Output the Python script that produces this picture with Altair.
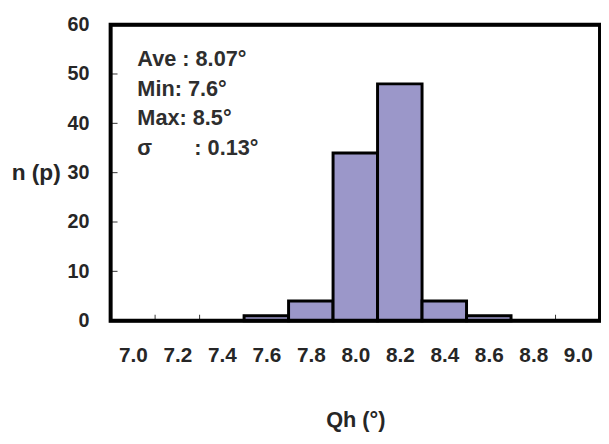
import altair as alt
import pandas as pd

# Data
bins = [7.0, 7.2, 7.4, 7.6, 7.8, 8.0, 8.2, 8.4, 8.6, 8.8, 9.0]
counts = [0, 0, 0, 1, 4, 34, 48, 4, 1, 0, 0]
y_ticks = [0, 10, 20, 30, 40, 50, 60]
x_tick_marks = [7.1, 7.3, 7.5, 7.7, 7.9, 8.1, 8.3, 8.5, 8.7, 8.9]
notes = ["Ave : 8.07°", "Min: 7.6°", "Max: 8.5°", "σ\u00a0\u00a0\u00a0\u00a0\u00a0\u00a0\u00a0: 0.13°"]
note_y = [53, 47, 41, 35]
note_x = [7.02, 7.02, 7.02, 7.02]
x_domain = [6.9, 9.1]
y_domain = [0, 60]

half = 0.1
bars_df = pd.DataFrame({"bin": bins, "n": counts,
                        "lo": [b - half for b in bins], "hi": [b + half for b in bins]})
bars_df = bars_df[bars_df["n"] > 0]
xt_df = pd.DataFrame({"t": x_tick_marks})
yt_df = pd.DataFrame({"t": y_ticks[1:-1]})
notes_df = pd.DataFrame({"txt": notes, "x": note_x, "y": note_y})
frame_df = pd.DataFrame({"x0": [x_domain[0]], "x1": [x_domain[1]],
                         "y0": [y_domain[0]], "y1": [y_domain[1]]})

FONT = "Liberation Sans"
INK = "#262626"
FRAME = "black"
xscale = alt.Scale(domain=x_domain, nice=False, zero=False)
yscale = alt.Scale(domain=y_domain, nice=False)

bars = alt.Chart(bars_df).mark_bar(color="#9b97c9", stroke=FRAME, strokeWidth=3).encode(
    x=alt.X("lo:Q", scale=xscale, axis=alt.Axis(
        values=bins, format=".1f", title="Qh (°)", ticks=False, domain=False, grid=False,
        labelFont=FONT, labelFontSize=21, labelFontWeight="bold", labelColor=INK,
        labelPadding=24, titleFont=FONT, titleFontSize=22, titleFontWeight="bold",
        titleColor=INK, titlePadding=45)),
    x2="hi:Q",
    y=alt.Y("n:Q", scale=yscale, axis=alt.Axis(
        values=y_ticks, title="n (p)", ticks=False, domain=False, grid=False,
        labelFont=FONT, labelFontSize=20, labelFontWeight="bold", labelColor=INK,
        labelPadding=22, titleFont=FONT, titleFontSize=23, titleFontWeight="bold",
        titleColor=INK, titleAngle=0, titleAlign="right", titleBaseline="middle",
        titleY=150, titleX=-51)),
    y2=alt.Y2(datum=0),
)

xticks = alt.Chart(xt_df).mark_rule(color="#333", strokeWidth=1).encode(
    x=alt.X("t:Q", scale=xscale), y=alt.value(300), y2=alt.value(294))
yticks = alt.Chart(yt_df).mark_rule(color="#333", strokeWidth=1).encode(
    y=alt.Y("t:Q", scale=yscale), x=alt.value(0), x2=alt.value(7))

frame = alt.Chart(frame_df).mark_rect(fill="transparent", stroke=FRAME, strokeWidth=4).encode(
    x=alt.X("x0:Q", scale=xscale), x2="x1:Q",
    y=alt.Y("y0:Q", scale=yscale), y2="y1:Q")

text = alt.Chart(notes_df).mark_text(align="left", baseline="middle", font=FONT,
                                     fontSize=22, fontWeight="bold", color="#2e2e2e").encode(
    x=alt.X("x:Q", scale=xscale), y=alt.Y("y:Q", scale=yscale), text="txt:N")

chart = alt.layer(xticks, yticks, bars, frame, text).properties(
    width=496, height=300,
    autosize=alt.AutoSizeParams(type="none"),
    padding={"left": 104, "top": 14, "right": 1, "bottom": 114},
    background="white",
).configure_view(stroke="black", strokeWidth=3)

chart.save("out.html", embed_options={"renderer": "svg", "actions": False})
